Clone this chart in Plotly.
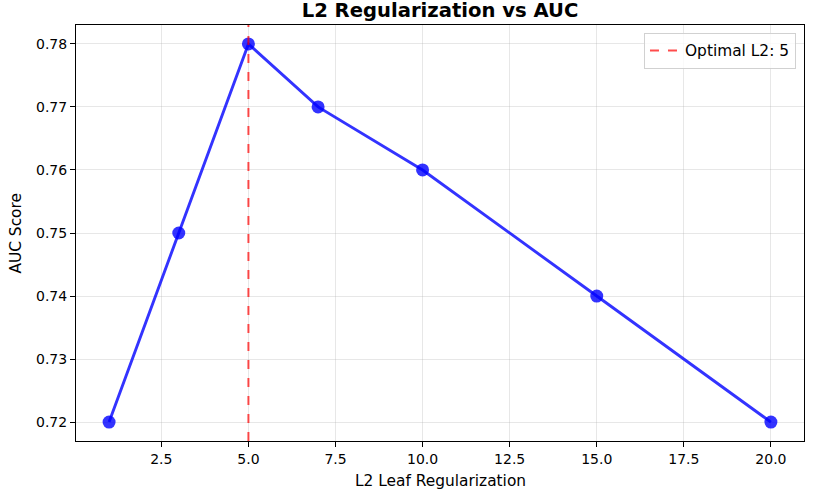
import plotly.graph_objects as go

l2_values = [1, 3, 5, 7, 10, 15, 20]
auc_scores = [0.72, 0.75, 0.78, 0.77, 0.76, 0.74, 0.72]
optimal_l2 = 5
x_ticks = [2.5, 5.0, 7.5, 10.0, 12.5, 15.0, 17.5, 20.0]
y_ticks = [0.72, 0.73, 0.74, 0.75, 0.76, 0.77, 0.78]

font = "DejaVu Sans"
fig = go.Figure()
fig.add_trace(go.Scatter(
    x=l2_values, y=auc_scores, mode="lines+markers",
    line=dict(color="rgba(0,0,255,0.8)", width=2.9),
    marker=dict(color="rgba(0,0,255,0.8)", size=13),
    showlegend=False,
))
fig.add_shape(type="line", x0=optimal_l2, x1=optimal_l2, y0=0, y1=1,
              xref="x", yref="y domain",
              line=dict(color="rgba(255,0,0,0.7)", width=2, dash="dash"))
fig.add_trace(go.Scatter(
    x=[None], y=[None], mode="lines",
    line=dict(color="rgba(255,0,0,0.7)", width=2, dash="dash"),
    name=f"Optimal L2: {optimal_l2}",
))

axis_common = dict(
    showline=True, linecolor="black", linewidth=1.1, mirror=True,
    ticks="outside", ticklen=5, tickcolor="black", tickwidth=1.1,
    showgrid=True, gridcolor="rgba(176,176,176,0.3)", gridwidth=1,
    zeroline=False, tickfont=dict(family=font, size=14, color="black"),
    automargin=False,
)
fig.update_xaxes(range=[0.05, 20.95], tickvals=x_ticks,
                 ticktext=[f"{v:.1f}" for v in x_ticks], **axis_common)
fig.update_yaxes(range=[0.717, 0.783], tickvals=y_ticks,
                 ticktext=[f"{v:.2f}" for v in y_ticks], **axis_common)

label_font = dict(family=font, size=15.4, color="black")
fig.add_annotation(text="L2 Leaf Regularization", xref="paper", yref="paper",
                   x=0.5, y=-0.0962, xanchor="center", yanchor="middle",
                   showarrow=False, font=label_font)
fig.add_annotation(text="AUC Score", xref="paper", yref="paper",
                   x=-0.083, y=0.5, xanchor="center", yanchor="middle",
                   textangle=-90, showarrow=False, font=label_font)

fig.update_layout(
    width=822, height=496,
    margin=dict(l=76, r=18, t=25, b=55),
    plot_bgcolor="white", paper_bgcolor="white",
    title=dict(text="<b>L2 Regularization vs AUC</b>", x=0.5, xanchor="center",
               xref="paper", yref="container", y=0.979, yanchor="middle",
               font=dict(family=font, size=19.6, color="black")),
    legend=dict(x=0.989, y=0.981, xanchor="right", yanchor="top",
                bordercolor="rgba(204,204,204,0.9)", borderwidth=1,
                bgcolor="rgba(255,255,255,0.8)",
                font=dict(family=font, size=15.4, color="black")),
    font=dict(family=font),
)
fig.write_html("out.html", config={"displayModeBar": False},
               post_script="document.body.style.margin='0';")
